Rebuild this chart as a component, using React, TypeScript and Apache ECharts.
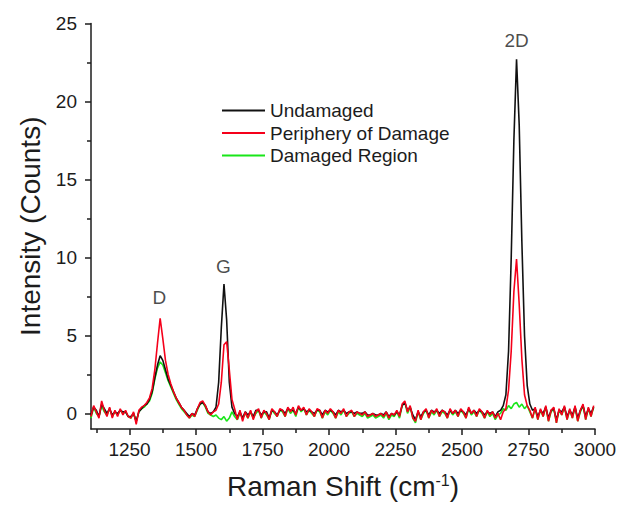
import React, { useEffect, useRef } from "react";
import * as echarts from "echarts";

// Raman shift sample positions (cm^-1)
const ramanShift = [
  1105, 1115, 1125, 1135, 1145, 1155, 1165, 1175, 1185, 1195,
  1205, 1215, 1225, 1235, 1245, 1255, 1265, 1275, 1285, 1295,
  1305, 1315, 1325, 1335, 1345, 1355, 1365, 1375, 1385, 1395,
  1405, 1415, 1425, 1435, 1445, 1455, 1465, 1475, 1485, 1495,
  1505, 1515, 1525, 1535, 1545, 1555, 1565, 1575, 1585, 1595,
  1605, 1615, 1625, 1635, 1645, 1655, 1665, 1675, 1685, 1695,
  1705, 1715, 1725, 1735, 1745, 1755, 1765, 1775, 1785, 1795,
  1805, 1815, 1825, 1835, 1845, 1855, 1865, 1875, 1885, 1895,
  1905, 1915, 1925, 1935, 1945, 1955, 1965, 1975, 1985, 1995,
  2005, 2015, 2025, 2035, 2045, 2055, 2065, 2075, 2085, 2095,
  2105, 2115, 2125, 2135, 2145, 2155, 2165, 2175, 2185, 2195,
  2205, 2215, 2225, 2235, 2245, 2255, 2265, 2275, 2285, 2295,
  2305, 2315, 2325, 2335, 2345, 2355, 2365, 2375, 2385, 2395,
  2405, 2415, 2425, 2435, 2445, 2455, 2465, 2475, 2485, 2495,
  2505, 2515, 2525, 2535, 2545, 2555, 2565, 2575, 2585, 2595,
  2605, 2615, 2625, 2635, 2645, 2655, 2665, 2675, 2685, 2695,
  2705, 2715, 2725, 2735, 2745, 2755, 2765, 2775, 2785, 2795,
  2805, 2815, 2825, 2835, 2845, 2855, 2865, 2875, 2885, 2895,
  2905, 2915, 2925, 2935, 2945, 2955, 2965, 2975, 2985, 2995,
];

const undamaged = [
  -0.1, 0.4, 0.2, -0.2, 0.6, 0.3, 0.0, 0.3, -0.1, 0.1,
  0.0, 0.2, 0.1, 0.1, -0.2, -0.2, 0.0, -0.5, 0.1, 0.3,
  0.5, 0.6, 0.9, 1.4, 2.3, 3.1, 3.7, 3.4, 2.8, 2.2,
  1.8, 1.4, 1.0, 0.7, 0.4, 0.2, 0.0, -0.2, 0.0, -0.1,
  0.3, 0.6, 0.7, 0.5, 0.1, 0.0, 0.1, 0.4, 2.0, 5.5,
  8.3, 6.0, 2.0, 0.4, 0.0, -0.2, 0.1, -0.3, 0.1, -0.1,
  0.1, -0.2, 0.2, 0.2, -0.1, 0.1, 0.1, -0.3, 0.2, 0.1,
  -0.1, 0.2, 0.2, 0.0, 0.3, 0.2, 0.2, 0.0, 0.4, 0.2,
  0.3, 0.1, 0.2, 0.1, 0.0, 0.2, 0.2, -0.1, 0.2, 0.1,
  0.2, 0.1, -0.1, 0.2, 0.1, 0.2, 0.0, 0.1, 0.1, 0.0,
  0.1, 0.0, 0.0, 0.1, -0.1, -0.1, 0.0, -0.1, -0.1, 0.0,
  -0.1, 0.1, -0.2, 0.0, -0.1, 0.1, -0.1, 0.5, 0.7, 0.2,
  0.4, -0.1, -0.4, 0.1, -0.2, 0.1, 0.2, -0.1, 0.2, 0.1,
  0.2, 0.0, 0.2, 0.1, -0.1, 0.2, 0.0, 0.2, 0.0, 0.2,
  0.1, -0.1, 0.3, 0.0, 0.2, 0.0, 0.2, 0.1, -0.1, 0.1,
  0.0, 0.1, -0.2, 0.1, 0.2, 0.5, 1.2, 4.0, 10.0, 17.5,
  22.7, 18.5, 11.0, 5.0, 1.8, 0.6, 0.2, 0.3, -0.2, 0.2,
  0.0, 0.4, -0.3, 0.2, 0.3, -0.4, 0.2, 0.1, 0.4, -0.2,
  0.2, -0.1, 0.4, -0.3, 0.2, 0.5, -0.2, 0.3, 0.0, 0.4,
];

const periphery = [
  -0.2, 0.5, 0.1, -0.3, 0.8, 0.2, -0.2, 0.4, -0.3, 0.2,
  -0.2, 0.3, -0.1, 0.2, -0.2, -0.3, 0.1, -0.7, 0.2, 0.4,
  0.5, 0.7, 1.0, 1.6, 2.8, 4.5, 6.1, 4.8, 3.4, 2.5,
  1.9, 1.4, 1.0, 0.7, 0.4, 0.2, -0.1, -0.3, 0.0, -0.2,
  0.3, 0.7, 0.8, 0.5, 0.1, -0.1, 0.1, 0.2, 0.6, 2.0,
  4.4, 4.6, 2.8, 0.9, 0.3, -0.4, 0.2, -0.5, 0.1, -0.3,
  0.2, -0.4, 0.1, 0.3, -0.3, 0.2, 0.0, -0.4, 0.3, 0.1,
  -0.2, 0.3, 0.2, -0.2, 0.4, 0.1, 0.4, -0.1, 0.5, 0.2,
  0.4, -0.1, 0.3, 0.1, -0.2, 0.3, 0.2, -0.3, 0.2, 0.0,
  0.3, 0.1, -0.3, 0.2, 0.0, 0.3, -0.2, 0.1, 0.2, -0.2,
  0.1, 0.0, -0.1, 0.1, -0.2, -0.1, 0.0, -0.2, -0.1, 0.0,
  -0.2, 0.1, -0.3, 0.0, -0.1, 0.2, -0.2, 0.6, 0.8, 0.1,
  0.5, -0.3, -0.5, 0.2, -0.4, 0.1, 0.3, -0.3, 0.2, 0.0,
  0.3, -0.2, 0.2, 0.1, -0.3, 0.3, 0.0, 0.2, -0.2, 0.3,
  0.1, -0.3, 0.4, 0.0, 0.2, -0.2, 0.3, 0.1, -0.3, 0.2,
  -0.1, 0.1, -0.3, 0.0, -0.4, 0.1, 0.3, 1.5, 4.0, 7.8,
  9.9, 7.0, 3.5, 1.2, 0.5, 0.2, -0.3, 0.4, -0.4, 0.3,
  -0.2, 0.5, -0.5, 0.2, 0.4, -0.6, 0.3, -0.1, 0.5, -0.4,
  0.3, -0.3, 0.5, -0.5, 0.2, 0.6, -0.4, 0.4, -0.2, 0.5,
];

const damaged = [
  -0.3, 0.4, 0.0, -0.2, 0.5, 0.1, -0.1, 0.3, -0.2, 0.1,
  -0.1, 0.2, 0.0, 0.1, -0.2, -0.3, 0.0, -0.5, 0.1, 0.3,
  0.4, 0.6, 0.8, 1.3, 2.2, 2.9, 3.3, 3.1, 2.6, 2.1,
  1.7, 1.3, 0.9, 0.6, 0.3, 0.1, -0.1, -0.3, -0.1, -0.2,
  0.2, 0.6, 0.7, 0.4, 0.0, -0.1, -0.2, -0.1, -0.3, -0.4,
  -0.2, -0.5, -0.3, 0.1, -0.2, -0.4, 0.0, -0.3, 0.0, -0.3,
  0.1, -0.3, 0.0, 0.2, -0.3, 0.1, -0.1, -0.4, 0.2, 0.0,
  -0.2, 0.2, 0.1, -0.2, 0.3, 0.0, 0.2, -0.2, 0.4, 0.1,
  0.3, -0.1, 0.2, 0.0, -0.2, 0.2, 0.1, -0.3, 0.1, -0.1,
  0.2, 0.0, -0.3, 0.1, -0.1, 0.2, -0.2, 0.0, 0.1, -0.2,
  0.0, -0.1, -0.2, 0.0, -0.3, -0.2, -0.1, -0.3, -0.2, -0.1,
  -0.3, 0.0, -0.4, -0.1, -0.2, 0.1, -0.3, 0.5, 0.7, 0.0,
  0.4, -0.3, -0.6, 0.1, -0.4, 0.0, 0.2, -0.3, 0.1, -0.1,
  0.2, -0.2, 0.1, 0.0, -0.3, 0.2, -0.1, 0.1, -0.2, 0.2,
  0.0, -0.3, 0.3, -0.1, 0.1, -0.2, 0.2, 0.0, -0.3, 0.1,
  -0.2, 0.0, -0.4, -0.1, 0.0, 0.3, 0.2, 0.5, 0.3, 0.6,
  0.7, 0.4, 0.6, 0.3, 0.5, 0.1, -0.3, 0.3, -0.4, 0.2,
  -0.2, 0.4, -0.5, 0.1, 0.3, -0.6, 0.2, -0.1, 0.4, -0.4,
  0.2, -0.3, 0.4, -0.5, 0.1, 0.5, -0.4, 0.3, -0.2, 0.4,
];

const xTickLabels = [1250, 1500, 1750, 2000, 2250, 2500, 2750, 3000];
const xMinorTicks = [1125, 1375, 1625, 1875, 2125, 2375, 2625, 2875];
const yTickLabels = [0, 5, 10, 15, 20, 25];
const yMinorTicks = [2.5, 7.5, 12.5, 17.5, 22.5];

const peakNames = ["D", "G", "2D"];
const peakLabelShift = [1362, 1603, 2705];
const peakLabelIntensity = [7.45, 9.4, 23.9];

const seriesNames = ["Undamaged", "Periphery of Damage", "Damaged Region"];

const FONT = "'Liberation Sans', Arial, Helvetica, sans-serif";
const INK = "#1c1c1c";

export default function App() {
  const ref = useRef<HTMLDivElement>(null);

  useEffect(() => {
    if (!ref.current) return;
    const chart = echarts.init(ref.current, undefined, { renderer: "svg" });

    const pairs = (ys: number[]) => ramanShift.map((x, i) => [x, ys[i]]);

    const axisLineStyle = { color: INK, width: 1.5 };

    const option: any = {
      animation: false,
      backgroundColor: "#ffffff",
      textStyle: { fontFamily: FONT },
      grid: { left: 91, right: 28, top: 23.5, bottom: 73.5, containLabel: false },
      legend: {
        orient: "vertical",
        left: 222,
        top: 101,
        padding: 0,
        itemGap: 3.5,
        itemWidth: 43,
        itemHeight: 2,
        icon: "rect",
        selectedMode: false,
        data: seriesNames,
        textStyle: { fontSize: 19, color: INK, fontFamily: FONT },
      },
      xAxis: [
        {
          type: "value",
          min: 1105,
          max: 3000,
          position: "bottom",
          axisLine: { show: true, onZero: false, lineStyle: axisLineStyle },
          axisTick: { show: true, customValues: xTickLabels, length: 6, lineStyle: axisLineStyle },
          axisLabel: {
            customValues: xTickLabels,
            formatter: (v: number) => String(v),
            fontSize: 19,
            color: INK,
            margin: 11,
            fontFamily: FONT,
          },
          splitLine: { show: false },
          name: "Raman Shift (cm{sup|-1})",
          nameLocation: "middle",
          nameGap: 43,
          nameTextStyle: {
            fontSize: 28,
            color: INK,
            fontFamily: FONT,
            rich: { sup: { fontSize: 16, color: INK, fontFamily: FONT, verticalAlign: "top" } },
          },
        },
        {
          type: "value",
          min: 1105,
          max: 3000,
          position: "bottom",
          axisLine: { show: false, onZero: false },
          axisTick: { show: true, customValues: xMinorTicks, length: 4, lineStyle: axisLineStyle },
          axisLabel: { show: false },
          splitLine: { show: false },
        },
      ],
      yAxis: [
        {
          type: "value",
          min: -1,
          max: 25,
          position: "left",
          axisLine: { show: true, onZero: false, lineStyle: axisLineStyle },
          axisTick: { show: true, customValues: yTickLabels, length: 6, lineStyle: axisLineStyle },
          axisLabel: {
            customValues: yTickLabels,
            formatter: (v: number) => String(v),
            fontSize: 19,
            color: INK,
            margin: 14,
            fontFamily: FONT,
          },
          splitLine: { show: false },
          name: "Intensity (Counts)",
          nameLocation: "middle",
          nameGap: 47,
          nameTextStyle: { fontSize: 28, color: INK, fontFamily: FONT },
        },
        {
          type: "value",
          min: -1,
          max: 25,
          position: "left",
          axisLine: { show: false, onZero: false },
          axisTick: { show: true, customValues: yMinorTicks, length: 4, lineStyle: axisLineStyle },
          axisLabel: { show: false },
          splitLine: { show: false },
        },
      ],
      series: [
        {
          name: seriesNames[2],
          type: "line",
          data: pairs(damaged),
          showSymbol: false,
          symbol: "none",
          color: "#19e619",
          lineStyle: { width: 1.6, color: "#19e619" },
          z: 2,
        },
        {
          name: seriesNames[0],
          type: "line",
          data: pairs(undamaged),
          showSymbol: false,
          symbol: "none",
          color: "#111111",
          lineStyle: { width: 1.6, color: "#111111" },
          z: 3,
        },
        {
          name: seriesNames[1],
          type: "line",
          data: pairs(periphery),
          showSymbol: false,
          symbol: "none",
          color: "#f5001a",
          lineStyle: { width: 1.6, color: "#f5001a" },
          z: 4,
        },
        {
          name: "peaks",
          type: "scatter",
          silent: true,
          symbolSize: 1,
          itemStyle: { color: "rgba(0,0,0,0)" },
          data: peakNames.map((n, i) => ({ name: n, value: [peakLabelShift[i], peakLabelIntensity[i]] })),
          label: {
            show: true,
            position: "inside",
            formatter: "{b}",
            fontSize: 19,
            color: INK,
            fontFamily: FONT,
          },
          z: 5,
        },
      ],
    };

    chart.setOption(option);
    return () => chart.dispose();
  }, []);

  return (
    <div
      ref={ref}
      style={{ position: "fixed", left: 0, top: 0, width: 623, height: 505, background: "#fff" }}
    />
  );
}
